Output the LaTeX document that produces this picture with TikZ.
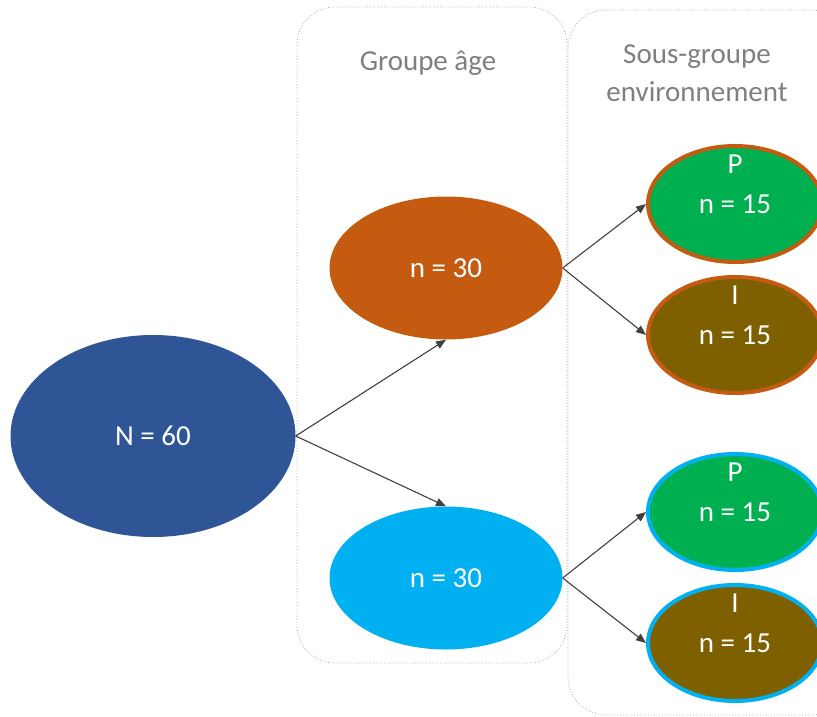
\documentclass[tikz,border=0pt]{standalone}
\usepackage{fontspec}
\setmainfont{Carlito}
\usetikzlibrary{shapes.geometric,arrows.meta}
\definecolor{bleuN}{HTML}{2F5597}
\definecolor{orangeA}{HTML}{C55A11}
\definecolor{cyanA}{HTML}{00B0F0}
\definecolor{vertP}{HTML}{00B050}
\definecolor{brunI}{HTML}{7F6000}
\definecolor{grisT}{HTML}{7F7F7F}
\definecolor{grisB}{HTML}{A6A6A6}
\tikzset{
  groupe/.style={ellipse,draw=none,text=white,font=\fontsize{29}{34}\selectfont},
  sousgroupe/.style={ellipse,line width=4pt,text=white,minimum width=174pt,minimum height=116pt,
    font=\fontsize{29}{34}\selectfont},
  lettre/.style={label={[text=white,anchor=center,label distance=-20pt,font=\fontsize{29}{34}\selectfont]90:#1}},
  cadre/.style={draw=grisB,dotted,line width=0.8pt,rounded corners=38pt},
  titre/.style={text=grisT,font=\fontsize{29}{38}\selectfont,align=center},
  fleche/.style={draw=black!75,line width=1.1pt,-{Triangle[length=10pt,width=8pt]}}
}
\begin{document}
\begin{tikzpicture}[x=1pt,y=-1pt]
	\useasboundingbox (0,0) rectangle (817,717);
	\clip (0,0) rectangle (817,717);
	% cadres
	\draw[cadre] (297,7) rectangle (567,663);
	\draw[cadre] (568,10) rectangle (850,715);
	\node[titre] (t1) at (428,63) {Groupe âge};
	\node[titre] (t2) at (697,73) {Sous-groupe\\environnement};
	% population
	\node[groupe,fill=bleuN,minimum width=285pt,minimum height=202pt] (N) at (153,436) {N = 60};
	\node[groupe,fill=orangeA,minimum width=233pt,minimum height=143pt] (g1) at (446,268) {n = 30};
	\node[groupe,fill=cyanA,minimum width=233pt,minimum height=143pt] (g2) at (446,578) {n = 30};
	% sous-groupes
	\node[sousgroupe,draw=orangeA,fill=vertP,lettre=P] (p1) at (735,204) {n = 15};
	\node[sousgroupe,draw=orangeA,fill=brunI,lettre=I] (i1) at (735,335) {n = 15};
	\node[sousgroupe,draw=cyanA,fill=vertP,lettre=P] (p2) at (735,512) {n = 15};
	\node[sousgroupe,draw=cyanA,fill=brunI,lettre=I] (i2) at (735,643) {n = 15};
	% fleches
	\draw[fleche] (N.east) -- (g1.south);
	\draw[fleche] (N.east) -- (g2.north);
	\draw[fleche] (g1.east) -- (p1.west);
	\draw[fleche] (g1.east) -- (i1.west);
	\draw[fleche] (g2.east) -- (p2.west);
	\draw[fleche] (g2.east) -- (i2.west);
\end{tikzpicture}
\end{document}
